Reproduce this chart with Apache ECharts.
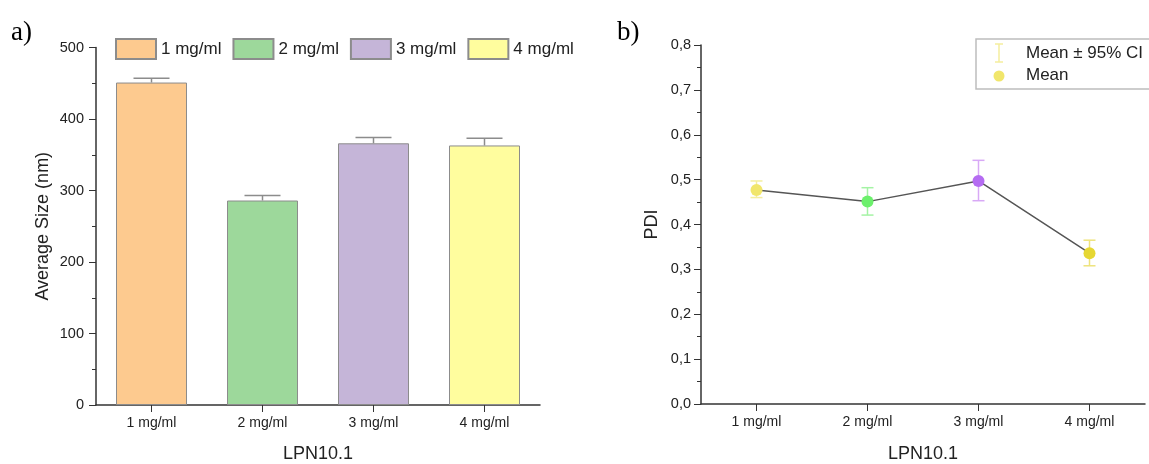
<!DOCTYPE html>
<html>
<head>
<meta charset="utf-8">
<script src="https://cdn.jsdelivr.net/npm/echarts@6/dist/echarts.min.js"></script>
<style>
  html, body { margin: 0; padding: 0; background: #fff; }
  #chart { width: 1149px; height: 464px; }
</style>
</head>
<body>
<div id="chart"></div>
<script>
// Concentrations tested for LPN10.1
const categories = ['1 mg/ml', '2 mg/ml', '3 mg/ml', '4 mg/ml'];

// Panel a: average particle size (nm) with upper error
const sizeMeans = [451, 286, 366, 363];
const sizeErrors = [6, 7, 8, 10];

// Panel b: PDI mean with 95% confidence interval
const pdiMeans = [0.477, 0.451, 0.497, 0.336];
const pdiLower = [0.460, 0.421, 0.453, 0.308];
const pdiUpper = [0.497, 0.482, 0.543, 0.365];

const sizeTicks = [0, 100, 200, 300, 400, 500];
const pdiTicks = [0, 0.1, 0.2, 0.3, 0.4, 0.5, 0.6, 0.7, 0.8];

const barColors = ['#fdca8f', '#9dd89b', '#c5b5d8', '#fffd9e'];
const pointColors = ['#f1e66b', '#6cf06c', '#b56cf2', '#e6d733'];
const ciColors = ['#f4ee9e', '#a4f3a4', '#d8a9f6', '#eee37d'];

const FONT = 'Liberation Sans, Arial, sans-serif';
const axisColor = '#333';

function axisBase() {
  return {
    axisLine: { show: true, lineStyle: { color: axisColor, width: 1.5 } },
    nameTextStyle: { color: '#222', fontFamily: FONT, fontSize: 18 },
    splitLine: { show: false }
  };
}

const barSeries = categories.map((c, i) => ({
  name: c,
  type: 'bar',
  xAxisIndex: 0,
  yAxisIndex: 0,
  barWidth: 71,
  barGap: '-100%',
  itemStyle: { color: barColors[i], borderColor: '#8c8c8c', borderWidth: 1 },
  data: categories.map((_, j) => (j === i ? sizeMeans[i] : '-'))
}));

const option = {
  animation: false,
  textStyle: { fontFamily: FONT },
  grid: [
    { left: 96, right: 609, top: 47.5, bottom: 59, outerBoundsMode: 'none', containLabel: false },
    { left: 701, right: 4, top: 45, bottom: 60, outerBoundsMode: 'none', containLabel: false }
  ],
  legend: {
    data: categories,
    left: 110,
    top: 33,
    itemWidth: 40,
    itemHeight: 20,
    itemGap: 11,
    icon: 'rect',
    textStyle: { fontFamily: FONT, fontSize: 17, color: '#222' }
  },
  xAxis: [
    Object.assign(axisBase(), {
      gridIndex: 0,
      type: 'category',
      data: categories,
      name: 'LPN10.1',
      nameLocation: 'middle',
      nameGap: 40,
      axisTick: { show: true, alignWithLabel: true, length: 7, lineStyle: { color: axisColor } },
      axisLabel: { color: '#222', fontFamily: FONT, fontSize: 14, margin: 11 }
    }),
    Object.assign(axisBase(), {
      gridIndex: 1,
      type: 'category',
      data: categories,
      name: 'LPN10.1',
      nameLocation: 'middle',
      nameGap: 41,
      axisTick: { show: true, alignWithLabel: true, length: 7, lineStyle: { color: axisColor } },
      axisLabel: { color: '#222', fontFamily: FONT, fontSize: 14, margin: 11 }
    })
  ],
  yAxis: [
    Object.assign(axisBase(), {
      gridIndex: 0,
      type: 'value',
      min: sizeTicks[0],
      max: sizeTicks[sizeTicks.length - 1],
      interval: 100,
      name: 'Average Size (nm)',
      nameLocation: 'middle',
      nameGap: 44,
      axisTick: { show: true, length: 7, lineStyle: { color: axisColor } },
      minorTick: { show: true, splitNumber: 2, length: 4, lineStyle: { color: axisColor } },
      axisLabel: { color: '#222', fontFamily: FONT, fontSize: 14.5, margin: 12 }
    }),
    Object.assign(axisBase(), {
      gridIndex: 1,
      type: 'value',
      min: pdiTicks[0],
      max: pdiTicks[pdiTicks.length - 1],
      interval: 0.1,
      name: 'PDI',
      nameLocation: 'middle',
      nameGap: 40,
      axisTick: { show: true, length: 7, lineStyle: { color: axisColor } },
      minorTick: { show: true, splitNumber: 2, length: 4, lineStyle: { color: axisColor } },
      axisLabel: {
        color: '#222', fontFamily: FONT, fontSize: 14.5, margin: 10,
        formatter: v => v.toFixed(1).replace('.', ',')
      }
    })
  ],
  series: barSeries.concat([
    {
      // upper error whiskers on the size bars
      type: 'custom',
      xAxisIndex: 0,
      yAxisIndex: 0,
      z: 3,
      data: sizeMeans.map((m, i) => [i, m, m + sizeErrors[i]]),
      renderItem: function (params, api) {
        const base = api.coord([api.value(0), api.value(1)]);
        const top = api.coord([api.value(0), api.value(2)]);
        const half = 18;
        const style = { stroke: '#8c8c8c', lineWidth: 1.5 };
        return {
          type: 'group',
          children: [
            { type: 'line', shape: { x1: base[0], y1: base[1], x2: top[0], y2: top[1] }, style },
            { type: 'line', shape: { x1: top[0] - half, y1: top[1], x2: top[0] + half, y2: top[1] }, style }
          ]
        };
      }
    },
    {
      // 95% confidence intervals for PDI
      type: 'custom',
      xAxisIndex: 1,
      yAxisIndex: 1,
      z: 2,
      data: pdiMeans.map((m, i) => [i, pdiLower[i], pdiUpper[i]]),
      renderItem: function (params, api) {
        const i = api.value(0);
        const lo = api.coord([i, api.value(1)]);
        const hi = api.coord([i, api.value(2)]);
        const half = 6;
        const style = { stroke: ciColors[params.dataIndex], lineWidth: 1.5 };
        return {
          type: 'group',
          children: [
            { type: 'line', shape: { x1: lo[0], y1: lo[1], x2: hi[0], y2: hi[1] }, style },
            { type: 'line', shape: { x1: hi[0] - half, y1: hi[1], x2: hi[0] + half, y2: hi[1] }, style },
            { type: 'line', shape: { x1: lo[0] - half, y1: lo[1], x2: lo[0] + half, y2: lo[1] }, style }
          ]
        };
      }
    },
    {
      name: 'Mean',
      type: 'line',
      xAxisIndex: 1,
      yAxisIndex: 1,
      z: 3,
      symbol: 'circle',
      symbolSize: 12,
      lineStyle: { color: '#555', width: 1.5 },
      data: pdiMeans.map((v, i) => ({ value: v, itemStyle: { color: pointColors[i] } }))
    }
  ]),
  graphic: [
    { type: 'text', left: 11, top: 19, style: { text: 'a)', fontFamily: 'Liberation Serif, Times New Roman, serif', fontSize: 27, fill: '#000' } },
    { type: 'text', left: 617, top: 19, style: { text: 'b)', fontFamily: 'Liberation Serif, Times New Roman, serif', fontSize: 27, fill: '#000' } },
    // PDI legend box
    { type: 'rect', shape: { x: 976, y: 39, width: 200, height: 50 }, style: { fill: '#fff', stroke: '#bdbdbd', lineWidth: 1.5 }, z: 10 },
    { type: 'line', shape: { x1: 999, y1: 44, x2: 999, y2: 62 }, style: { stroke: '#f4ee9e', lineWidth: 1.5 }, z: 11 },
    { type: 'line', shape: { x1: 995, y1: 44, x2: 1003, y2: 44 }, style: { stroke: '#f4ee9e', lineWidth: 1.5 }, z: 11 },
    { type: 'line', shape: { x1: 995, y1: 62, x2: 1003, y2: 62 }, style: { stroke: '#f4ee9e', lineWidth: 1.5 }, z: 11 },
    { type: 'circle', shape: { cx: 999, cy: 76, r: 5.5 }, style: { fill: '#f1e66b' }, z: 11 },
    { type: 'text', x: 1026, y: 53, style: { text: 'Mean ± 95% CI', fontFamily: FONT, fontSize: 17, fill: '#222', verticalAlign: 'middle' }, z: 11 },
    { type: 'text', x: 1026, y: 75, style: { text: 'Mean', fontFamily: FONT, fontSize: 17, fill: '#222', verticalAlign: 'middle' }, z: 11 }
  ]
};

const chart = echarts.init(document.getElementById('chart'), null, { renderer: 'canvas' });
chart.setOption(option);
</script>
</body>
</html>
